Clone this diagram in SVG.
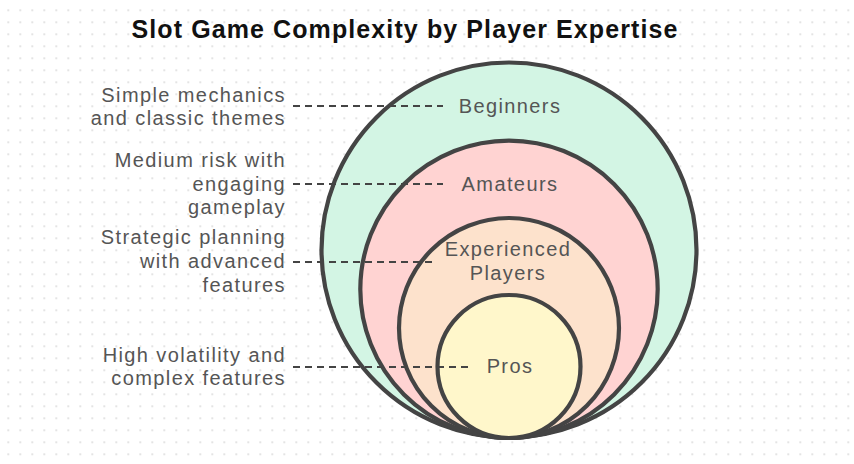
<svg xmlns="http://www.w3.org/2000/svg" width="854" height="464" viewBox="0 0 854 464">
<defs>
<pattern id="dots" x="0" y="0" width="12" height="12" patternUnits="userSpaceOnUse">
<rect x="7.3" y="9.3" width="2" height="2" fill="#e4e4e4"/>
</pattern>
<style>
.ring{stroke:#444;stroke-width:4.2;}
.lbl{font-family:"Liberation Sans",Arial,sans-serif;font-size:20px;letter-spacing:1.4px;fill:#555;text-anchor:middle;}
.desc{font-family:"Liberation Sans",Arial,sans-serif;font-size:20px;letter-spacing:1.4px;fill:#555;text-anchor:end;}
.title{font-family:"Liberation Sans",Arial,sans-serif;font-size:25px;letter-spacing:1.1px;font-weight:bold;fill:#111;text-anchor:middle;}
.dash{stroke:#444;stroke-width:1.8;stroke-dasharray:7 5;fill:none;}
</style>
</defs>
<rect width="854" height="464" fill="#ffffff"/>
<rect width="854" height="464" fill="url(#dots)"/>
<text class="title" x="405" y="38">Slot Game Complexity by Player Expertise</text>
<g id="beginners">
<circle class="ring" cx="509" cy="250" r="187.5" fill="#d3f5e4"/>
<text class="lbl" x="510" y="113">Beginners</text>
<text class="desc" x="286" y="102">Simple mechanics</text>
<text class="desc" x="286" y="125">and classic themes</text>
</g>
<g id="amateurs">
<circle class="ring" cx="509" cy="289.3" r="148.7" fill="#ffd3d2"/>
<text class="lbl" x="510" y="191">Amateurs</text>
<text class="desc" x="286" y="167">Medium risk with</text>
<text class="desc" x="286" y="190.5">engaging</text>
<text class="desc" x="286" y="214">gameplay</text>
</g>
<g id="experienced">
<circle class="ring" cx="509" cy="328" r="110" fill="#fde2cc"/>
<text class="lbl" x="508" y="256">Experienced</text>
<text class="lbl" x="508" y="279.5">Players</text>
<text class="desc" x="286" y="244">Strategic planning</text>
<text class="desc" x="286" y="268">with advanced</text>
<text class="desc" x="286" y="291.5">features</text>
</g>
<g id="pros">
<circle class="ring" cx="509" cy="366.5" r="71.5" fill="#fff7cb"/>
<text class="lbl" x="510" y="373">Pros</text>
<text class="desc" x="286" y="361.5">High volatility and</text>
<text class="desc" x="286" y="385">complex features</text>
</g>
<g id="connectors">
<line class="dash" x1="293" y1="106" x2="443" y2="106"/>
<line class="dash" x1="293" y1="184" x2="443" y2="184"/>
<line class="dash" x1="293" y1="262" x2="432" y2="262"/>
<line class="dash" x1="293" y1="367" x2="468" y2="367"/>
</g>
</svg>
